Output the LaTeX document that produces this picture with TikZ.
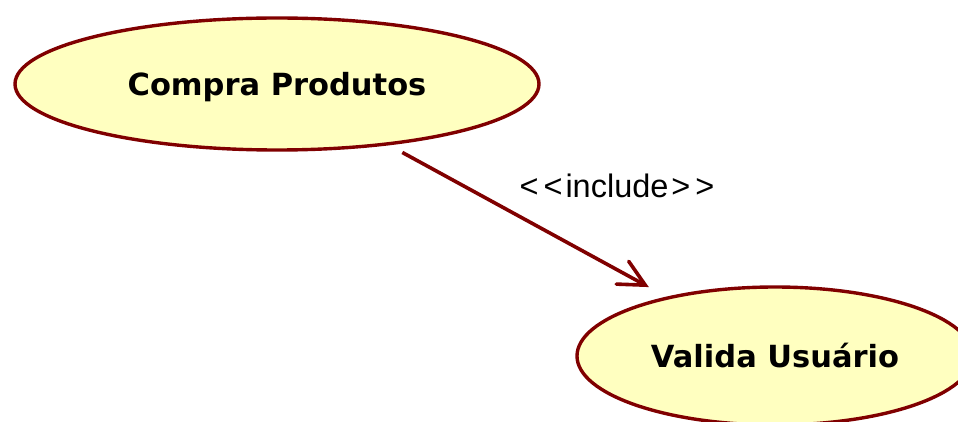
\documentclass[tikz,border=0pt]{standalone}
\usepackage{fontspec}
\usetikzlibrary{shapes.geometric,arrows.meta}
\newfontfamily\ucbold{DejaVu Sans Bold}
\newfontfamily\ucplain{Liberation Sans}
\definecolor{ucborder}{RGB}{128,0,0}
\definecolor{ucfill}{RGB}{255,255,192}
\tikzset{
  usecase/.style={ellipse, draw=ucborder, fill=ucfill, line width=3.4pt, inner sep=0pt,
    font=\ucbold\fontsize{30.5}{36}\selectfont, text height=22.2pt, text depth=0pt},
  inclabel/.style={font=\ucplain\fontsize{32.5}{38}\selectfont, inner sep=0pt, anchor=base},
  incline/.style={draw=ucborder, line width=3.6pt,
    -{Straight Barb[length=26pt, width=26pt, line cap=round]}}
}
\begin{document}
\begin{tikzpicture}[x=1pt, y=-1pt]
  \clip (0,0) rectangle (958,422);
  \fill[white] (0,0) rectangle (958,422);
  \node[usecase, minimum width=524pt, minimum height=132pt] (cp) at (277,84) {Compra Produtos};
  \node[usecase, minimum width=396pt, minimum height=138pt] (vu) at (775,356) {Valida Usuário};
  \draw[incline, shorten <=15pt, shorten >=20pt] (cp) -- (vu);
  \node[inclabel] (inc) at (617,198) {{<}\kern5pt{<}\kern3pt include\kern3pt{>}\kern5pt{>}};
\end{tikzpicture}
\end{document}
